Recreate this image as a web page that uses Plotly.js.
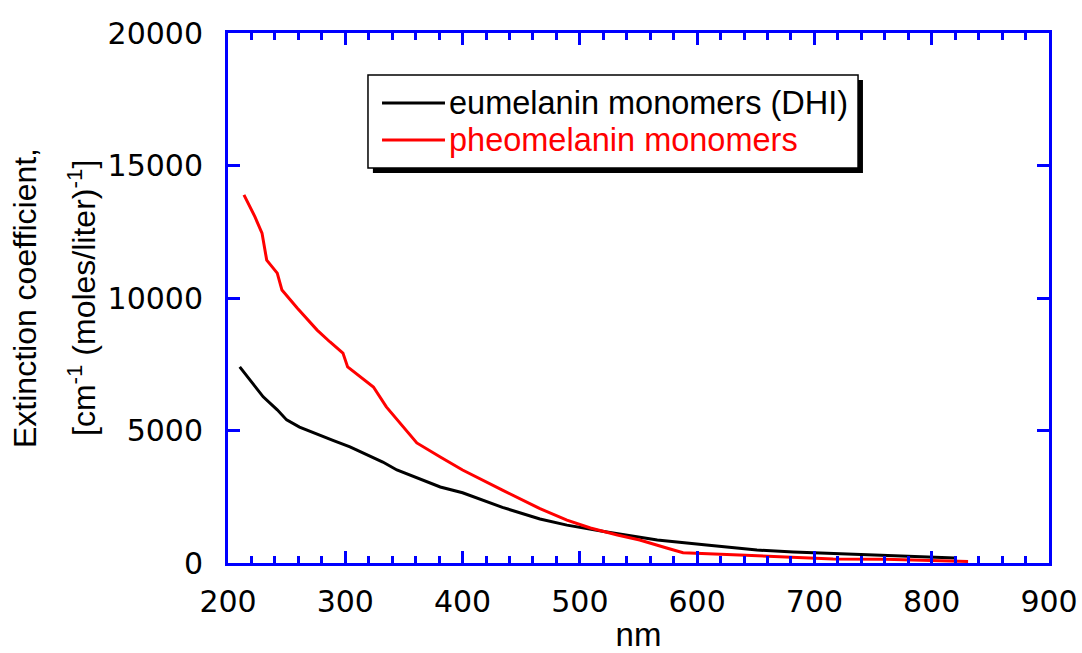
<!DOCTYPE html>
<html>
<head>
<meta charset="utf-8">
<script src="https://cdn.plot.ly/plotly-3.0.1.min.js"></script>
<style>html,body{margin:0;padding:0;background:#fff;}#chart{width:1082px;height:653px;}</style>
</head>
<body>
<div id="chart"></div>
<script>
// Eumelanin monomers (DHI)
var euNm  = [210, 219, 230, 242, 250, 261, 276, 290, 304, 332, 344, 361, 381, 400, 434, 466, 489, 523, 566, 608, 651, 682, 747, 796, 820];
var euVal = [7400, 6900, 6270, 5780, 5400, 5130, 4880, 4620, 4380, 3810, 3510, 3210, 2870, 2650, 2100, 1660, 1430, 1170, 868, 680, 490, 415, 300, 226, 190];
// Pheomelanin monomers
var pheoNm  = [213.6, 223, 229, 233, 242, 246, 259, 276, 287, 298, 302, 324, 335, 361, 381, 400, 434, 466, 489, 509, 532, 551, 574, 588, 636, 682, 716, 760, 800, 831];
var pheoVal = [13890, 13060, 12450, 11430, 10940, 10300, 9620, 8790, 8340, 7920, 7400, 6640, 5890, 4530, 4000, 3510, 2750, 2050, 1620, 1320, 1056, 868, 566, 390, 300, 226, 150, 140, 110, 60];

var seriesNames = ['eumelanin monomers (DHI)', 'pheomelanin monomers'];
var seriesColors = ['#000000', '#ff0000'];
var xTitle = 'nm';
var yTitleLines = ['Extinction coefficient,', '[cm<sup>-1</sup> (moles/liter)<sup>-1</sup>]'];

var traces = [
  {x: euNm, y: euVal, name: seriesNames[0], mode: 'lines', line: {color: seriesColors[0], width: 3}},
  {x: pheoNm, y: pheoVal, name: seriesNames[1], mode: 'lines', line: {color: seriesColors[1], width: 3}}
];

var textFont = 'Liberation Sans, Arial, sans-serif';
var tickFont = {family: 'DejaVu Sans, sans-serif', size: 30, color: '#000'};
var blue = '#0000ff';

// legend geometry (paper coords)
var lx0 = 0.1705, lx1 = 0.7674, ly0 = 0.7453, ly1 = 0.9208;
var rowY = [0.8679, 0.7981];
var shapes = [
  {type: 'rect', xref: 'paper', yref: 'paper', x0: lx0 + 0.006, x1: lx1 + 0.006, y0: ly0 - 0.0095, y1: ly1 - 0.0095, fillcolor: '#000', line: {width: 0}, layer: 'above'},
  {type: 'rect', xref: 'paper', yref: 'paper', x0: lx0, x1: lx1, y0: ly0, y1: ly1, fillcolor: '#fff', line: {color: '#000', width: 1.5}, layer: 'above'}
];
var annotations = [];
for (var i = 0; i < 2; i++) {
  shapes.push({type: 'line', xref: 'paper', yref: 'paper', x0: 0.1876, x1: 0.2643, y0: rowY[i], y1: rowY[i], line: {color: seriesColors[i], width: 3}, layer: 'above'});
  annotations.push({xref: 'paper', yref: 'paper', x: 0.2667, y: rowY[i], xanchor: 'left', yanchor: 'middle', showarrow: false, text: seriesNames[i], font: {family: textFont, size: 32.5, color: seriesColors[i]}});
}
annotations.push({xref: 'paper', yref: 'paper', x: 0, y: 0.5, xshift: -203, xanchor: 'center', yanchor: 'middle', textangle: -90, showarrow: false, text: yTitleLines[0], font: {family: textFont, size: 32, color: '#000'}});
annotations.push({xref: 'paper', yref: 'paper', x: 0, y: 0.5, xshift: -146, xanchor: 'center', yanchor: 'middle', textangle: -90, showarrow: false, text: yTitleLines[1], font: {family: textFont, size: 32, color: '#000'}});

var layout = {
  width: 1082, height: 653,
  margin: {l: 228, r: 33, t: 33, b: 90},
  paper_bgcolor: '#fff', plot_bgcolor: '#fff',
  showlegend: false,
  xaxis: {
    range: [200, 900], tick0: 200, dtick: 100, tickmode: 'linear', tickformat: 'd',
    showgrid: false, zeroline: false,
    showline: true, linecolor: blue, linewidth: 3, mirror: 'ticks',
    ticks: 'inside', ticklen: 12, tickwidth: 3, tickcolor: blue,
    minor: {dtick: 20, ticks: 'inside', ticklen: 7, tickwidth: 3, tickcolor: blue, showgrid: false},
    tickfont: tickFont, ticklabelstandoff: 10,
    title: {text: xTitle, font: {family: textFont, size: 33, color: '#000'}, standoff: 14}
  },
  yaxis: {
    range: [0, 20000], tick0: 0, dtick: 5000, tickmode: 'linear', tickformat: 'd',
    showgrid: false, zeroline: false,
    showline: true, linecolor: blue, linewidth: 3, mirror: 'ticks',
    ticks: 'inside', ticklen: 12, tickwidth: 3, tickcolor: blue,
    tickfont: tickFont, ticklabelstandoff: 16
  },
  shapes: shapes,
  annotations: annotations
};

Plotly.newPlot('chart', traces, layout, {displayModeBar: false, staticPlot: true});
</script>
</body>
</html>
